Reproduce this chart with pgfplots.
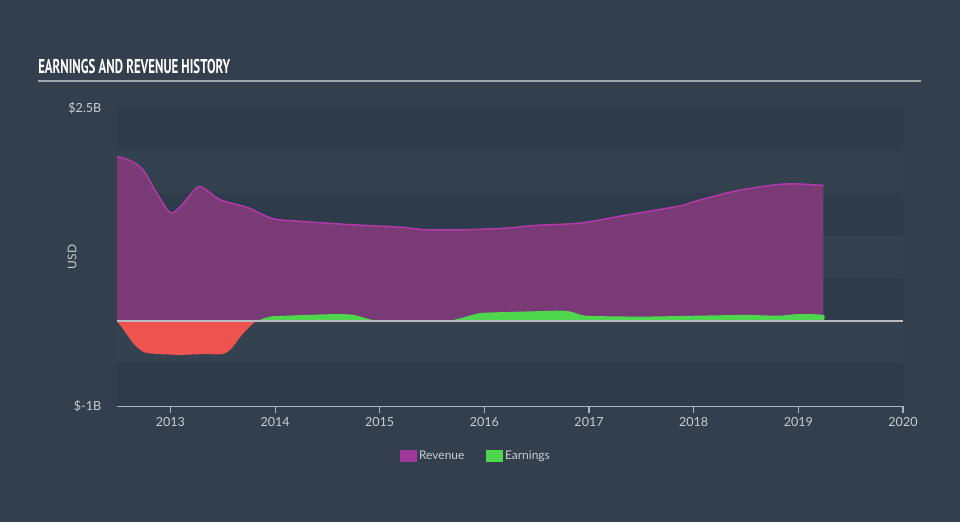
\documentclass[border=0pt]{standalone}
\usepackage{fontspec}
\setmainfont{Lato}
\newfontfamily\titlefont[FakeStretch=0.64]{PT Sans}
\usepackage{pgfplots}
\pgfplotsset{compat=1.18}
\definecolor{bgA}{HTML}{333F4C}
\definecolor{stripeD}{HTML}{2E3B4A}
\definecolor{stripeL}{HTML}{344250}
\definecolor{revfill}{HTML}{7A3A76}
\definecolor{revline}{HTML}{B23AA7}
\definecolor{earnG}{HTML}{4FD64F}
\definecolor{earnR}{HTML}{EF5350}
\definecolor{txt}{HTML}{C9CDD2}
\definecolor{axline}{HTML}{A9B6C4}
\definecolor{zeroline}{HTML}{B8BCC0}
\definecolor{legrev}{HTML}{A3389B}
\definecolor{titleline}{HTML}{9DA3A8}
\begin{document}
\begin{tikzpicture}[x=0.75pt,y=0.75pt]
\fill[bgA] (0,0) rectangle (960,522);
\node[anchor=base west, text=white, inner sep=0pt, font=\titlefont\bfseries\fontsize{15}{15}\selectfont] at (38,448) {EARNINGS AND REVENUE HISTORY};
\draw[titleline, line width=1.5pt] (38,441) -- (921,441);
\begin{axis}[
  at={(87.75pt,87pt)}, anchor=south west,
  scale only axis, width=589.5pt, height=223.5pt,
  xmin=2012.49, xmax=2020, ymin=-1, ymax=2.5,
  axis lines*=left,
  x axis line style={axline, line width=0.9pt},
  y axis line style={draw=none},
  xtick={2013,2014,2015,2016,2017,2018,2019,2020},
  xticklabels={2013,2014,2015,2016,2017,2018,2019,2020},
  ytick={-1,2.5}, yticklabels={\$-1B,\$2.5B},
  tick align=outside,
  major tick length=5.3pt,
  xtick style={axline, line width=0.8pt},
  ytick style={draw=none},
  ticklabel style={font=\fontsize{9.4}{10}\selectfont, text=txt},
  xticklabel style={yshift=0.5pt},
  yticklabel style={xshift=-3pt},
  ylabel={USD},
  every axis y label/.style={at={(rel axis cs:0,0.5)}, xshift=-33.75pt, rotate=90, anchor=center, font=\fontsize{9}{10}\selectfont, text=txt},
  legend style={at={(0.457,-0.168)}, anchor=center, draw=none, fill=none, text=txt, font=\fontsize{9}{10}\selectfont, legend columns=2, /tikz/every even column/.append style={column sep=14pt}},
  legend image code/.code={\fill[#1] (0pt,-4pt) rectangle (12pt,4.5pt);},
]
% background stripes
\addplot[forget plot, draw=none, fill=stripeD] coordinates {(2012.49,2) (2020,2) (2020,2.5) (2012.49,2.5)} -- cycle;
\addplot[forget plot, draw=none, fill=stripeL] coordinates {(2012.49,1.5) (2020,1.5) (2020,2) (2012.49,2)} -- cycle;
\addplot[forget plot, draw=none, fill=stripeD] coordinates {(2012.49,1) (2020,1) (2020,1.5) (2012.49,1.5)} -- cycle;
\addplot[forget plot, draw=none, fill=stripeL] coordinates {(2012.49,0.5) (2020,0.5) (2020,1) (2012.49,1)} -- cycle;
\addplot[forget plot, draw=none, fill=stripeD] coordinates {(2012.49,0) (2020,0) (2020,0.5) (2012.49,0.5)} -- cycle;
\addplot[forget plot, draw=none, fill=stripeL] coordinates {(2012.49,-0.5) (2020,-0.5) (2020,0) (2012.49,0)} -- cycle;
\addplot[forget plot, draw=none, fill=stripeD] coordinates {(2012.49,-1) (2020,-1) (2020,-0.5) (2012.49,-0.5)} -- cycle;
% revenue
\addplot[forget plot, draw=none, fill=revfill, smooth, tension=0.5] table {
2012.49 1.93
2012.62 1.88
2012.74 1.77
2012.87 1.50
2013.00 1.27
2013.10 1.35
2013.26 1.57
2013.35 1.53
2013.48 1.42
2013.74 1.33
2013.98 1.20
2014.24 1.17
2014.72 1.13
2015.20 1.10
2015.45 1.07
2015.80 1.07
2016.22 1.09
2016.47 1.12
2016.92 1.15
2017.39 1.25
2017.87 1.35
2018.00 1.40
2018.38 1.52
2018.73 1.59
2018.95 1.61
2019.24 1.59
} \closedcycle;
\addplot[forget plot, revline, line width=1.1pt, smooth, tension=0.5] table {
2012.49 1.93
2012.62 1.88
2012.74 1.77
2012.87 1.50
2013.00 1.27
2013.10 1.35
2013.26 1.57
2013.35 1.53
2013.48 1.42
2013.74 1.33
2013.98 1.20
2014.24 1.17
2014.72 1.13
2015.20 1.10
2015.45 1.07
2015.80 1.07
2016.22 1.09
2016.47 1.12
2016.92 1.15
2017.39 1.25
2017.87 1.35
2018.00 1.40
2018.38 1.52
2018.73 1.59
2018.95 1.61
2019.24 1.59
};
% earnings negative
\addplot[forget plot, draw=none, fill=earnR, smooth, tension=0.4] table {
2012.49 0
2012.55 -0.10
2012.65 -0.27
2012.75 -0.37
2012.90 -0.39
2013.10 -0.40
2013.30 -0.39
2013.50 -0.39
2013.58 -0.33
2013.68 -0.17
2013.78 -0.04
2013.83 0
} -- cycle;
\addplot[forget plot, draw=none, fill=earnR, smooth, tension=0.4] table {
2014.95 0
2015.05 -0.012
2015.50 -0.012
2015.67 0
} -- cycle;
% earnings positive
\addplot[forget plot, draw=none, fill=earnG, smooth, tension=0.4] table {
2013.83 0
2013.95 0.05
2014.10 0.06
2014.30 0.07
2014.60 0.08
2014.75 0.07
2014.90 0.02
2014.97 0
} -- cycle;
\addplot[forget plot, draw=none, fill=earnG, smooth, tension=0.4] table {
2015.67 0
2015.80 0.04
2015.95 0.09
2016.10 0.10
2016.40 0.11
2016.75 0.12
2016.85 0.10
2016.98 0.06
2017.50 0.05
2018.00 0.06
2018.50 0.07
2018.80 0.06
2019.00 0.08
2019.24 0.07
2019.24 0
} -- cycle;
% zero line
\addplot[forget plot, zeroline, line width=1pt] coordinates {(2012.49,0) (2020,0)};
\addlegendimage{legrev}
\addlegendentry{Revenue}
\addlegendimage{earnG}
\addlegendentry{Earnings}
\end{axis}
\end{tikzpicture}
\end{document}
